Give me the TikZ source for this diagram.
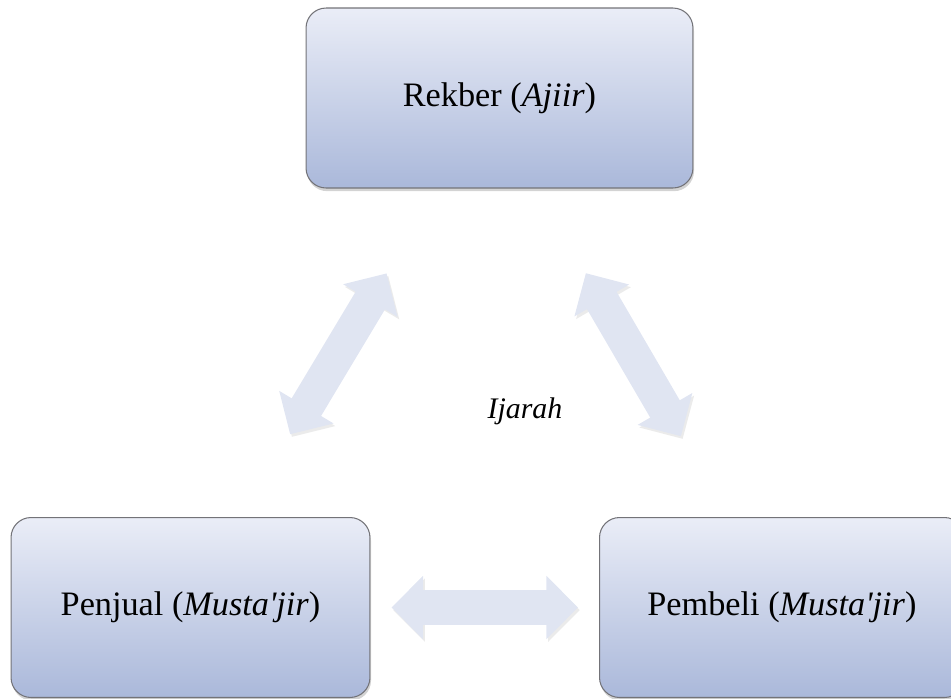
\documentclass[tikz,border=0pt]{standalone}
\usepackage{fontspec}
\setmainfont{Liberation Serif}
\usetikzlibrary{arrows.meta,shadows,calc}
\definecolor{atas}{RGB}{234,237,247}
\definecolor{bawah}{RGB}{170,184,218}
\definecolor{garis}{RGB}{115,115,120}
\definecolor{panahwarna}{RGB}{224,229,242}

\begin{document}
\begin{tikzpicture}[x=0.02cm,y=-0.02cm]
  \tikzstyle{panah}=[{Triangle[width=35pt,length=18pt]}-{Triangle[width=35pt,length=18pt]},line width=19.5pt,draw=panahwarna,
  preaction={draw=black!8,transform canvas={xshift=1pt,yshift=-1.5pt}}]
\tikzset{kotak/.style={draw=garis,semithick,top color=atas,bottom color=bawah,
minimum width=#1,minimum height=3.6cm,rounded corners=0.4cm,
font=\fontsize{19.5}{24}\selectfont,
drop shadow={shadow xshift=0.6pt,shadow yshift=-1.8pt,opacity=0.35}},
kotak/.default={7.2cm}}
\useasboundingbox (0,0) rectangle (951,698);
\clip (0,0) rectangle (951,698);

\node[kotak=7.74cm] (rekber) at (499.5,98){Rekber (\textit{Ajiir})};
\node[kotak=7.18cm] (penjual) at (190.5,607.5){Penjual (\textit{Musta\textquotesingle jir})};
\node[kotak=7.3cm] (pembeli) at (782,607.5){Pembeli (\textit{Musta\textquotesingle jir})};

\draw[panah,shorten <=1.98cm,shorten >=1.93cm] ($(rekber.south)+(-62,0)$) -- ($(penjual.north)+(50,0)$);
\draw[panah,shorten <=1.96cm,shorten >=1.87cm] ($(rekber.south)+(37,0)$) -- ($(pembeli.north)+(-54,0)$);
\draw[panah,shorten <=0.42cm,shorten >=0.42cm] (penjual.east) -- (pembeli.west);

\node[font=\fontsize{17}{20}\selectfont\itshape] (ijarah) at (525,411){Ijarah};

  \end{tikzpicture}
\end{document}
